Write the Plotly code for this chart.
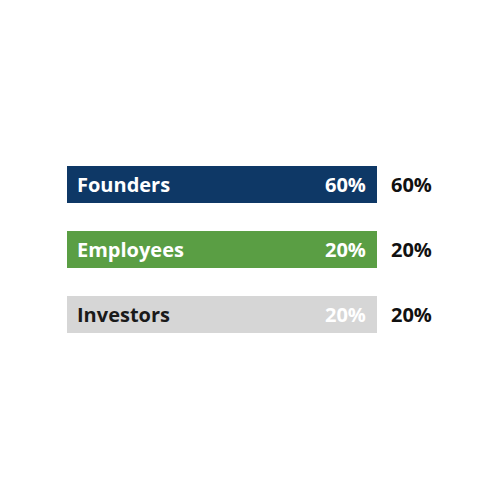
import plotly.graph_objects as go

categories = ["Founders", "Employees", "Investors"]
shares = [60, 20, 20]
track = [100, 100, 100]  # each bar drawn as a full 100% track
bar_colors = ["#0E3866", "#5A9E44", "#D6D6D6"]
label_colors = ["#FFFFFF", "#FFFFFF", "#1A1A1A"]
inner_pct_colors = ["#FFFFFF", "#FFFFFF", "#FFFFFF"]
outer_pct_color = "#111111"

FONT = "Open Sans"
SIZE = 20

fig = go.Figure()
fig.add_trace(go.Bar(
    y=categories, x=track, orientation="h",
    marker=dict(color=bar_colors, line=dict(width=0)),
    width=0.57, hoverinfo="skip", showlegend=False,
))

annotations = []
for cat, s, t, lc, pc in zip(categories, shares, track, label_colors, inner_pct_colors):
    annotations.append(dict(x=0, y=cat, xref="x", yref="y", text=f"<b>{cat}</b>",
                            showarrow=False, xanchor="left", xshift=8,
                            font=dict(family=FONT, size=SIZE, color=lc)))
    annotations.append(dict(x=t, y=cat, xref="x", yref="y", text=f"<b>{s}%</b>",
                            showarrow=False, xanchor="right", xshift=-9,
                            font=dict(family=FONT, size=SIZE, color=pc)))
    annotations.append(dict(x=t, y=cat, xref="x", yref="y", text=f"<b>{s}%</b>",
                            showarrow=False, xanchor="left", xshift=12,
                            font=dict(family=FONT, size=SIZE, color=outer_pct_color)))

fig.update_layout(
    width=500, height=500,
    margin=dict(l=59, r=131, t=144, b=161),
    paper_bgcolor="white", plot_bgcolor="white",
    xaxis=dict(range=[0, 100], visible=False, fixedrange=True),
    yaxis=dict(autorange="reversed", visible=False, fixedrange=True),
    annotations=annotations,
    bargap=0,
)

fig.write_html("out.html")
